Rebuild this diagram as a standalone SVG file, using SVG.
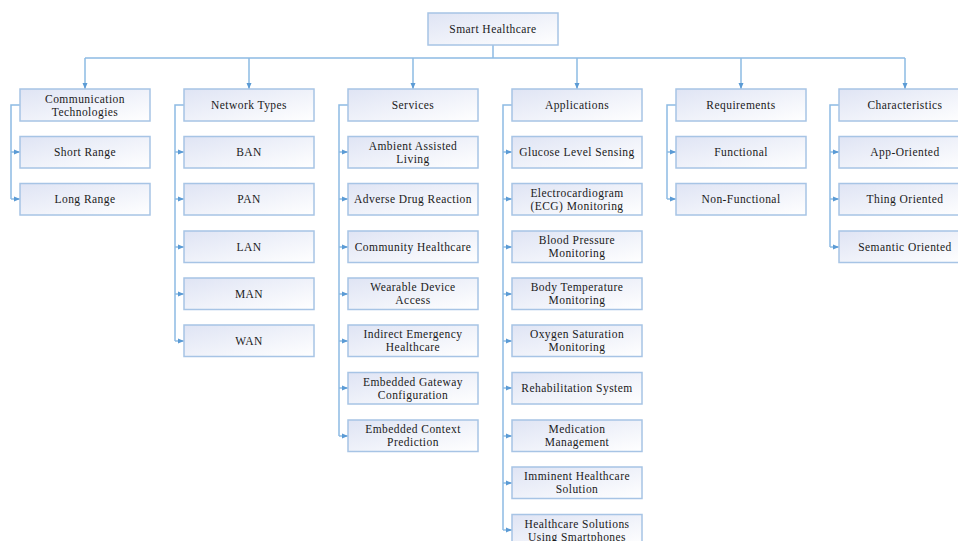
<svg xmlns="http://www.w3.org/2000/svg" width="958" height="541" viewBox="0 0 958 541">
<defs>
<linearGradient id="g" x1="0" y1="0" x2="1" y2="1">
<stop offset="0" stop-color="#dfe4f4"/>
<stop offset="1" stop-color="#ffffff"/>
</linearGradient>
<marker id="a" markerUnits="userSpaceOnUse" markerWidth="8" markerHeight="8" viewBox="0 0 8 8" refX="8" refY="4" orient="auto">
<path d="M2,1.5 L8,4 L2,6.5 Z" fill="#5b9bd5"/>
</marker>
<style>
.b{fill:url(#g);stroke:#a7c4e5;stroke-width:1.5}
.t{font-family:"Liberation Serif","Times New Roman",serif;font-size:11.5px;fill:#1a1a1a;text-anchor:middle;letter-spacing:0.45px}
.c{fill:none;stroke:#8dbbe3;stroke-width:1.5}
.ca{fill:none;stroke:#8dbbe3;stroke-width:1.5;marker-end:url(#a)}
</style>
</defs>
<g id="connectors">
<path class="c" d="M493,45 V58 M85,58 H905"/>
<path class="ca" d="M85,58 V89"/>
<path class="ca" d="M249,58 V89"/>
<path class="ca" d="M413,58 V89"/>
<path class="ca" d="M577,58 V89"/>
<path class="ca" d="M741,58 V89"/>
<path class="ca" d="M905,58 V89"/>
<path class="c" d="M20,105 H11 V199"/>
<path class="ca" d="M11,152 H20"/>
<path class="ca" d="M11,199 H20"/>
<path class="c" d="M184,105 H175 V341"/>
<path class="ca" d="M175,152 H184"/>
<path class="ca" d="M175,199 H184"/>
<path class="ca" d="M175,247 H184"/>
<path class="ca" d="M175,294 H184"/>
<path class="ca" d="M175,341 H184"/>
<path class="c" d="M348,105 H339 V436"/>
<path class="ca" d="M339,152 H348"/>
<path class="ca" d="M339,199 H348"/>
<path class="ca" d="M339,247 H348"/>
<path class="ca" d="M339,294 H348"/>
<path class="ca" d="M339,341 H348"/>
<path class="ca" d="M339,388 H348"/>
<path class="ca" d="M339,436 H348"/>
<path class="c" d="M512,105 H503 V530"/>
<path class="ca" d="M503,152 H512"/>
<path class="ca" d="M503,199 H512"/>
<path class="ca" d="M503,247 H512"/>
<path class="ca" d="M503,294 H512"/>
<path class="ca" d="M503,341 H512"/>
<path class="ca" d="M503,388 H512"/>
<path class="ca" d="M503,436 H512"/>
<path class="ca" d="M503,483 H512"/>
<path class="ca" d="M503,530 H512"/>
<path class="c" d="M676,105 H667 V199"/>
<path class="ca" d="M667,152 H676"/>
<path class="ca" d="M667,199 H676"/>
<path class="c" d="M839,105 H830 V247"/>
<path class="ca" d="M830,152 H839"/>
<path class="ca" d="M830,199 H839"/>
<path class="ca" d="M830,247 H839"/>
</g>
<g id="root"><rect class="b" x="428" y="13" width="130" height="32"/><text class="t" x="493" y="33">Smart Healthcare</text></g>

<g id="comm"><rect class="b" x="20" y="89" width="130" height="32"/><text class="t" x="85" y="102.5">Communication</text><text class="t" x="85" y="115.5">Technologies</text></g>
<g id="short"><rect class="b" x="20" y="136.5" width="130" height="31.5"/><text class="t" x="85" y="156">Short Range</text></g>
<g id="long"><rect class="b" x="20" y="183.5" width="130" height="31.5"/><text class="t" x="85" y="203">Long Range</text></g>

<g id="net"><rect class="b" x="184" y="89" width="130" height="32"/><text class="t" x="249" y="109">Network Types</text></g>
<g id="ban"><rect class="b" x="184" y="136.5" width="130" height="31.5"/><text class="t" x="249" y="156">BAN</text></g>
<g id="pan"><rect class="b" x="184" y="183.5" width="130" height="31.5"/><text class="t" x="249" y="203">PAN</text></g>
<g id="lan"><rect class="b" x="184" y="231" width="130" height="31.5"/><text class="t" x="249" y="251">LAN</text></g>
<g id="man"><rect class="b" x="184" y="278" width="130" height="31.5"/><text class="t" x="249" y="298">MAN</text></g>
<g id="wan"><rect class="b" x="184" y="325" width="130" height="31.5"/><text class="t" x="249" y="345">WAN</text></g>

<g id="serv"><rect class="b" x="348" y="89" width="130" height="32"/><text class="t" x="413" y="109">Services</text></g>
<g id="aal"><rect class="b" x="348" y="136.5" width="130" height="31.5"/><text class="t" x="413" y="150">Ambient Assisted</text><text class="t" x="413" y="163">Living</text></g>
<g id="adr"><rect class="b" x="348" y="183.5" width="130" height="31.5"/><text class="t" x="413" y="203">Adverse Drug Reaction</text></g>
<g id="ch"><rect class="b" x="348" y="231" width="130" height="31.5"/><text class="t" x="413" y="251">Community Healthcare</text></g>
<g id="wda"><rect class="b" x="348" y="278" width="130" height="31.5"/><text class="t" x="413" y="291">Wearable Device</text><text class="t" x="413" y="304">Access</text></g>
<g id="ieh"><rect class="b" x="348" y="325" width="130" height="31.5"/><text class="t" x="413" y="338">Indirect Emergency</text><text class="t" x="413" y="351">Healthcare</text></g>
<g id="egc"><rect class="b" x="348" y="372.5" width="130" height="31.5"/><text class="t" x="413" y="386">Embedded Gateway</text><text class="t" x="413" y="399">Configuration</text></g>
<g id="ecp"><rect class="b" x="348" y="420" width="130" height="31.5"/><text class="t" x="413" y="433">Embedded Context</text><text class="t" x="413" y="446">Prediction</text></g>

<g id="apps"><rect class="b" x="512" y="89" width="130" height="32"/><text class="t" x="577" y="109">Applications</text></g>
<g id="gls"><rect class="b" x="512" y="136.5" width="130" height="31.5"/><text class="t" x="577" y="156">Glucose Level Sensing</text></g>
<g id="ecg"><rect class="b" x="512" y="183.5" width="130" height="31.5"/><text class="t" x="577" y="197">Electrocardiogram</text><text class="t" x="577" y="210">(ECG) Monitoring</text></g>
<g id="bp"><rect class="b" x="512" y="231" width="130" height="31.5"/><text class="t" x="577" y="244">Blood Pressure</text><text class="t" x="577" y="257">Monitoring</text></g>
<g id="bt"><rect class="b" x="512" y="278" width="130" height="31.5"/><text class="t" x="577" y="291">Body Temperature</text><text class="t" x="577" y="304">Monitoring</text></g>
<g id="os"><rect class="b" x="512" y="325" width="130" height="31.5"/><text class="t" x="577" y="338">Oxygen Saturation</text><text class="t" x="577" y="351">Monitoring</text></g>
<g id="rs"><rect class="b" x="512" y="372.5" width="130" height="31.5"/><text class="t" x="577" y="392">Rehabilitation System</text></g>
<g id="mm"><rect class="b" x="512" y="420" width="130" height="31.5"/><text class="t" x="577" y="433">Medication</text><text class="t" x="577" y="446">Management</text></g>
<g id="ihs"><rect class="b" x="512" y="467" width="130" height="31.5"/><text class="t" x="577" y="480">Imminent Healthcare</text><text class="t" x="577" y="493">Solution</text></g>
<g id="hss"><rect class="b" x="512" y="514.5" width="130" height="31.5"/><text class="t" x="577" y="528">Healthcare Solutions</text><text class="t" x="577" y="541">Using Smartphones</text></g>

<g id="req"><rect class="b" x="676" y="89" width="130" height="32"/><text class="t" x="741" y="109">Requirements</text></g>
<g id="fun"><rect class="b" x="676" y="136.5" width="130" height="31.5"/><text class="t" x="741" y="156">Functional</text></g>
<g id="nfun"><rect class="b" x="676" y="183.5" width="130" height="31.5"/><text class="t" x="741" y="203">Non-Functional</text></g>

<g id="char"><rect class="b" x="839" y="89" width="130" height="32"/><text class="t" x="905" y="109">Characteristics</text></g>
<g id="app"><rect class="b" x="839" y="136.5" width="130" height="31.5"/><text class="t" x="905" y="156">App-Oriented</text></g>
<g id="thing"><rect class="b" x="839" y="183.5" width="130" height="31.5"/><text class="t" x="905" y="203">Thing Oriented</text></g>
<g id="sem"><rect class="b" x="839" y="231" width="130" height="31.5"/><text class="t" x="905" y="251">Semantic Oriented</text></g>
</svg>
